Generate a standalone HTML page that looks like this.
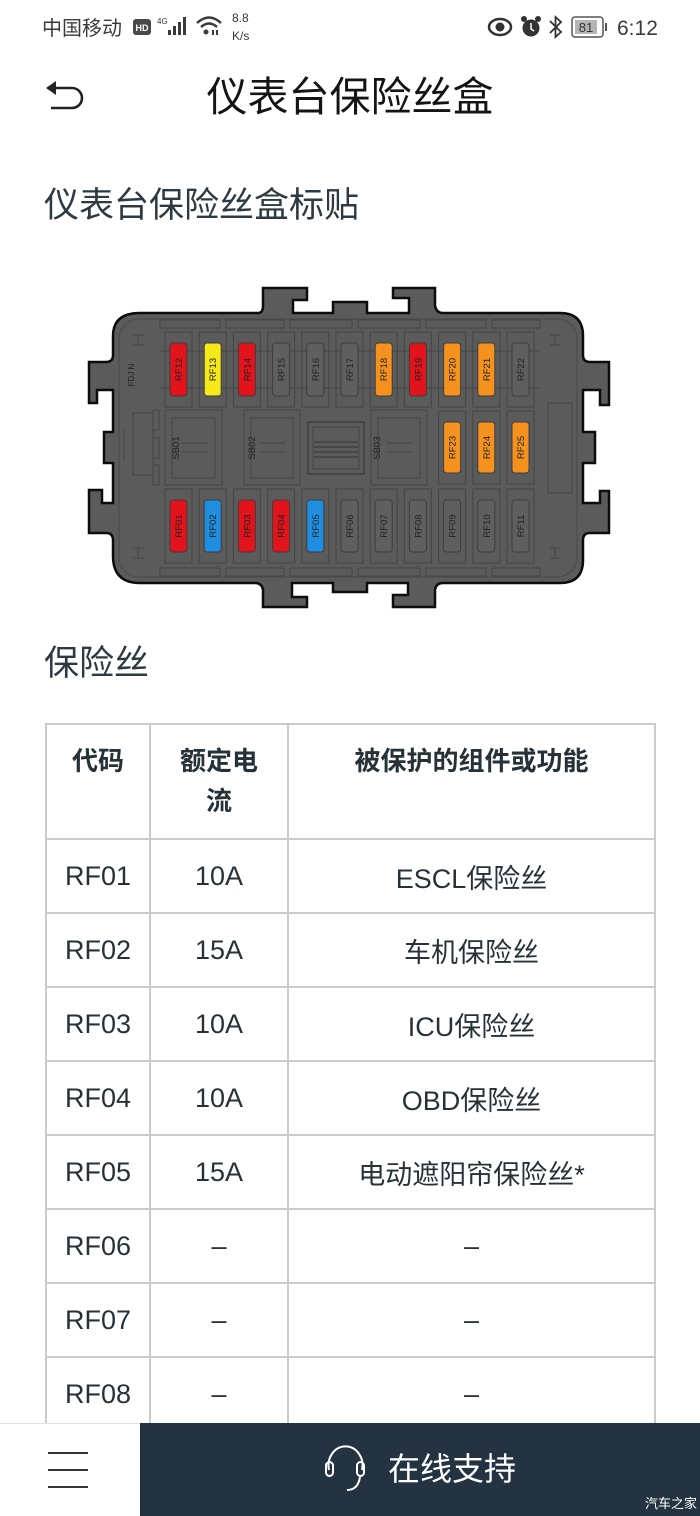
<!DOCTYPE html>
<html><head><meta charset="utf-8">
<style>
*{margin:0;padding:0;box-sizing:border-box}
html,body{width:700px;height:1516px;overflow:hidden;background:#fff}
body{position:relative;font-family:"Liberation Sans","Noto Sans CJK SC",sans-serif;color:#263238}
.abs{position:absolute}
.title{left:0;width:700px;top:74px;text-align:center;font-size:41px;line-height:46px;color:#141414;font-family:"Liberation Sans","Noto Sans CJK SC",sans-serif}
.h2{left:44px;font-size:35px;line-height:40px;color:#2d3a42}
table{position:absolute;left:45px;top:723px;border-collapse:collapse;table-layout:fixed;width:609px}
td,th{border:2px solid #cbcbcb;text-align:center;font-size:27px;color:#263238;font-weight:normal}
th{font-weight:bold;vertical-align:top;padding-top:16px;line-height:40px;height:115px;font-size:26px;color:#263238}
td{height:74px;vertical-align:middle}
.bar{left:140px;top:1423px;width:560px;height:93px;background:#233341}
.left{left:0;top:1423px;width:140px;height:93px;background:#fff;border-top:1px solid #e2e2e2}
</style></head><body>

<!-- status bar -->
<svg class="abs" style="left:0;top:0" width="700" height="60" viewBox="0 0 700 60">
<text x="42" y="35" font-size="20" fill="#3a3a3a" font-family="Liberation Sans,Noto Sans CJK SC,sans-serif">中国移动</text>
<rect x="133" y="19" width="18" height="16" rx="3" fill="#4a4a4a"/>
<text x="142" y="31" font-size="9" font-weight="bold" fill="#fff" text-anchor="middle" font-family="Liberation Sans,sans-serif">HD</text>
<text x="157" y="24" font-size="8" fill="#3a3a3a" font-family="Liberation Sans,sans-serif">4G</text>
<rect x="168" y="30" width="3" height="5" fill="#3a3a3a"/>
<rect x="173" y="26" width="3" height="9" fill="#3a3a3a"/>
<rect x="178" y="22" width="3" height="13" fill="#3a3a3a"/>
<rect x="183" y="17" width="3" height="18" fill="#3a3a3a"/>
<path d="M197 23 Q209 12 221 23" stroke="#3a3a3a" stroke-width="2.5" fill="none"/>
<path d="M201 27 Q209 20 217 27" stroke="#3a3a3a" stroke-width="2.5" fill="none"/>
<circle cx="206" cy="32" r="2.5" fill="#3a3a3a"/>
<rect x="212" y="30" width="2" height="5" fill="#3a3a3a"/><rect x="216" y="30" width="2" height="5" fill="#3a3a3a"/>
<text x="232" y="22" font-size="12" fill="#3a3a3a" font-family="Liberation Sans,sans-serif">8.8</text>
<text x="232" y="40" font-size="12" fill="#3a3a3a" font-family="Liberation Sans,sans-serif">K/s</text>
<ellipse cx="500" cy="27" rx="11" ry="8" fill="none" stroke="#333" stroke-width="2.5"/>
<circle cx="500" cy="27" r="4.5" fill="#333"/>
<circle cx="531" cy="28" r="8.5" fill="#333"/>
<circle cx="524" cy="19" r="3" fill="#333"/><circle cx="538" cy="19" r="3" fill="#333"/>
<path d="M531 23 L531 29 L534 31" stroke="#fff" stroke-width="1.5" fill="none"/>
<path d="M550 21 L561 32 L555.5 37 L555.5 17 L561 22 L550 33" stroke="#333" stroke-width="1.8" fill="none"/>
<rect x="572" y="17" width="31" height="20" rx="3" fill="none" stroke="#555" stroke-width="1.5"/>
<rect x="575" y="20" width="22" height="14" fill="#b5b5b5"/>
<text x="586" y="32" font-size="13" fill="#333" text-anchor="middle" font-family="Liberation Sans,sans-serif">81</text>
<rect x="605" y="23" width="2" height="8" fill="#555"/>
<text x="617" y="35" font-size="21" fill="#3a3a3a" font-family="Liberation Sans,sans-serif">6:12</text>
</svg>

<!-- header -->
<svg class="abs" style="left:40px;top:78px" width="50" height="40" viewBox="0 0 50 40">
<path d="M6 10 L16 3 L16 17 Z" fill="#222"/>
<path d="M14 10 L32 10 A10 10 0 0 1 32 30 L11 30" stroke="#222" stroke-width="2.6" fill="none"/>
</svg>
<div class="abs title">仪表台保险丝盒</div>

<div class="abs h2" style="top:186px">仪表台保险丝盒标贴</div>

<!-- fuse box -->
<svg class="abs" style="left:0;top:270px" width="700" height="350" viewBox="0 270 700 350" font-family="Liberation Sans,sans-serif">
<path d="M140 313 L258 313 Q263 313 263 306 L263 288 L307 288 L307 300 L293 300 L293 313 L333 313 L333 302 L367 302 L367 313 L409 313 L409 298 L393 298 L393 288 L435 288 L435 305 Q436 313 443 313 L560 313 Q583 313 583 336 L583 355 Q583 362 590 362 L609 362 L609 405 L600 405 L600 390 L583 390 L583 432 L595 432 L595 463 L583 463 L583 503 L600 503 L600 491 L609 491 L609 533 L590 533 Q583 533 583 540 L583 560 Q583 583 560 583 L443 583 Q436 583 435 590 L435 607 L393 607 L393 595 L408 595 L408 583 L367 583 L367 592 L333 592 L333 583 L292 583 L292 597 L307 597 L307 607 L263 607 L263 590 Q262 583 255 583 L140 583 Q113 583 113 556 L113 540 Q113 533 106 533 L89 533 L89 490 L102 490 L102 503 L113 503 L113 463 L104 463 L104 432 L113 432 L113 390 L97 390 L97 403 L89 403 L89 362 L106 362 Q113 362 113 355 L113 336 Q113 313 140 313 Z" fill="#5b5b5b" stroke="#0d0d0d" stroke-width="2.5"/>
<rect x="119" y="319" width="458" height="258" rx="20" fill="none" stroke="#4a4a4a" stroke-width="1"/>
<g fill="none" stroke="#454545" stroke-width="1">
<rect x="160" y="320" width="60" height="8"/><rect x="226" y="320" width="58" height="8"/><rect x="290" y="320" width="62" height="8"/><rect x="358" y="320" width="62" height="8"/><rect x="426" y="320" width="60" height="8"/><rect x="492" y="320" width="48" height="8"/>
<rect x="160" y="568" width="60" height="8"/><rect x="226" y="568" width="58" height="8"/><rect x="290" y="568" width="62" height="8"/><rect x="358" y="568" width="62" height="8"/><rect x="426" y="568" width="60" height="8"/><rect x="492" y="568" width="48" height="8"/>
<line x1="160" y1="351" x2="540" y2="351"/><line x1="160" y1="388" x2="540" y2="388"/>
<rect x="165" y="332" width="27" height="75"/><rect x="199.2" y="332" width="27" height="75"/><rect x="233.4" y="332" width="27" height="75"/><rect x="267.6" y="332" width="27" height="75"/><rect x="301.8" y="332" width="27" height="75"/><rect x="336" y="332" width="27" height="75"/><rect x="370.2" y="332" width="27" height="75"/><rect x="404.4" y="332" width="27" height="75"/><rect x="438.6" y="332" width="27" height="75"/><rect x="472.8" y="332" width="27" height="75"/><rect x="507" y="332" width="27" height="75"/>
<rect x="165" y="489" width="27" height="74"/><rect x="199.2" y="489" width="27" height="74"/><rect x="233.4" y="489" width="27" height="74"/><rect x="267.6" y="489" width="27" height="74"/><rect x="301.8" y="489" width="27" height="74"/><rect x="336" y="489" width="27" height="74"/><rect x="370.2" y="489" width="27" height="74"/><rect x="404.4" y="489" width="27" height="74"/><rect x="438.6" y="489" width="27" height="74"/><rect x="472.8" y="489" width="27" height="74"/><rect x="507" y="489" width="27" height="74"/>
<rect x="438.6" y="411" width="27" height="73"/><rect x="472.8" y="411" width="27" height="73"/><rect x="507" y="411" width="27" height="73"/>
<rect x="165" y="410" width="57" height="75"/><rect x="172" y="418" width="43" height="60"/>
<line x1="182" y1="443" x2="208" y2="443"/><line x1="182" y1="452" x2="208" y2="452"/>
<rect x="244" y="410" width="56" height="75"/><rect x="251" y="418" width="42" height="60"/>
<line x1="260" y1="443" x2="285" y2="443"/><line x1="260" y1="452" x2="285" y2="452"/>
<rect x="308" y="422" width="56" height="52" stroke="#333"/><rect x="313" y="427" width="46" height="42"/>
<line x1="314" y1="442" x2="358" y2="442" stroke="#333"/><line x1="314" y1="447" x2="358" y2="447" stroke="#333"/><line x1="314" y1="452" x2="358" y2="452" stroke="#333"/><line x1="314" y1="457" x2="358" y2="457" stroke="#333"/>
<rect x="371" y="410" width="56" height="75"/><rect x="378" y="418" width="42" height="60"/>
<line x1="387" y1="443" x2="412" y2="443"/><line x1="387" y1="452" x2="412" y2="452"/>
<rect x="133" y="413" width="20" height="62"/>
<rect x="153" y="410" width="6" height="20"/><rect x="153" y="438" width="6" height="20"/><rect x="153" y="465" width="6" height="20"/>
<line x1="124" y1="430" x2="124" y2="460"/>
<rect x="548" y="403" width="24" height="90"/>
<path d="M133 335 L145 335 M133 345 L145 345 M138 335 L138 345"/>
<path d="M560 335 L550 335 M560 345 L550 345 M555 335 L555 345"/>
<path d="M133 548 L145 548 M133 558 L145 558 M138 548 L138 558"/>
<path d="M560 548 L550 548 M560 558 L550 558 M555 548 L555 558"/>
</g>
<g stroke="#3e3e3e" stroke-width="1">
<rect x="170" y="343" width="17" height="53" rx="3" fill="#e3131b"/>
<rect x="204.2" y="343" width="17" height="53" rx="3" fill="#f7e81a"/>
<rect x="238.4" y="343" width="17" height="53" rx="3" fill="#e3131b"/>
<rect x="272.6" y="343" width="17" height="53" rx="3" fill="#5f5f5f"/>
<rect x="306.8" y="343" width="17" height="53" rx="3" fill="#5f5f5f"/>
<rect x="341" y="343" width="17" height="53" rx="3" fill="#5f5f5f"/>
<rect x="375.2" y="343" width="17" height="53" rx="3" fill="#f5921e"/>
<rect x="409.4" y="343" width="17" height="53" rx="3" fill="#e3131b"/>
<rect x="443.6" y="343" width="17" height="53" rx="3" fill="#f5921e"/>
<rect x="477.8" y="343" width="17" height="53" rx="3" fill="#f5921e"/>
<rect x="512" y="343" width="17" height="53" rx="3" fill="#5f5f5f"/>
<rect x="443.6" y="422" width="17" height="51" rx="3" fill="#f5921e"/>
<rect x="477.8" y="422" width="17" height="51" rx="3" fill="#f5921e"/>
<rect x="512" y="422" width="17" height="51" rx="3" fill="#f5921e"/>
<rect x="170" y="500" width="17" height="52" rx="3" fill="#e3131b"/>
<rect x="204.2" y="500" width="17" height="52" rx="3" fill="#1e8fe0"/>
<rect x="238.4" y="500" width="17" height="52" rx="3" fill="#e3131b"/>
<rect x="272.6" y="500" width="17" height="52" rx="3" fill="#e3131b"/>
<rect x="306.8" y="500" width="17" height="52" rx="3" fill="#1e8fe0"/>
<rect x="341" y="500" width="17" height="52" rx="3" fill="#5f5f5f"/>
<rect x="375.2" y="500" width="17" height="52" rx="3" fill="#5f5f5f"/>
<rect x="409.4" y="500" width="17" height="52" rx="3" fill="#5f5f5f"/>
<rect x="443.6" y="500" width="17" height="52" rx="3" fill="#5f5f5f"/>
<rect x="477.8" y="500" width="17" height="52" rx="3" fill="#5f5f5f"/>
<rect x="512" y="500" width="17" height="52" rx="3" fill="#5f5f5f"/>
</g>
<g font-size="9.5" fill="#222" text-anchor="middle">
<text transform="translate(182,369.5) rotate(-90)">RF12</text>
<text transform="translate(216.2,369.5) rotate(-90)">RF13</text>
<text transform="translate(250.4,369.5) rotate(-90)">RF14</text>
<text transform="translate(284.6,369.5) rotate(-90)">RF15</text>
<text transform="translate(318.8,369.5) rotate(-90)">RF16</text>
<text transform="translate(353,369.5) rotate(-90)">RF17</text>
<text transform="translate(387.2,369.5) rotate(-90)">RF18</text>
<text transform="translate(421.4,369.5) rotate(-90)">RF19</text>
<text transform="translate(455.6,369.5) rotate(-90)">RF20</text>
<text transform="translate(489.8,369.5) rotate(-90)">RF21</text>
<text transform="translate(524,369.5) rotate(-90)">RF22</text>
<text transform="translate(455.6,447.5) rotate(-90)">RF23</text>
<text transform="translate(489.8,447.5) rotate(-90)">RF24</text>
<text transform="translate(524,447.5) rotate(-90)">RF25</text>
<text transform="translate(182,526) rotate(-90)">RF01</text>
<text transform="translate(216.2,526) rotate(-90)">RF02</text>
<text transform="translate(250.4,526) rotate(-90)">RF03</text>
<text transform="translate(284.6,526) rotate(-90)">RF04</text>
<text transform="translate(318.8,526) rotate(-90)">RF05</text>
<text transform="translate(353,526) rotate(-90)">RF06</text>
<text transform="translate(387.2,526) rotate(-90)">RF07</text>
<text transform="translate(421.4,526) rotate(-90)">RF08</text>
<text transform="translate(455.6,526) rotate(-90)">RF09</text>
<text transform="translate(489.8,526) rotate(-90)">RF10</text>
<text transform="translate(524,526) rotate(-90)">RF11</text>
<text transform="translate(179,448) rotate(-90)">SB01</text>
<text transform="translate(255,448) rotate(-90)">SB02</text>
<text transform="translate(380,448) rotate(-90)">SB03</text>
<text transform="translate(134,375) rotate(-90)" font-size="8">FDJ N</text>
</g>
</svg>

<div class="abs h2" style="top:644px">保险丝</div>

<table>
<colgroup><col style="width:104px"><col style="width:138px"><col style="width:367px"></colgroup>
<tr><th>代码</th><th>额定电<br>流</th><th>被保护的组件或功能</th></tr>
<tr><td>RF01</td><td>10A</td><td>ESCL保险丝</td></tr>
<tr><td>RF02</td><td>15A</td><td>车机保险丝</td></tr>
<tr><td>RF03</td><td>10A</td><td>ICU保险丝</td></tr>
<tr><td>RF04</td><td>10A</td><td>OBD保险丝</td></tr>
<tr><td>RF05</td><td>15A</td><td>电动遮阳帘保险丝*</td></tr>
<tr><td>RF06</td><td>–</td><td>–</td></tr>
<tr><td>RF07</td><td>–</td><td>–</td></tr>
<tr><td>RF08</td><td>–</td><td>–</td></tr>
<tr><td>RF09</td><td>–</td><td>–</td></tr>
</table>

<!-- bottom bar -->
<div class="abs left"></div>
<div class="abs bar"></div>
<svg class="abs" style="left:0;top:1423px" width="700" height="93" viewBox="0 1423 700 93">
<line x1="48" y1="1453" x2="88" y2="1453" stroke="#333" stroke-width="2"/>
<line x1="48" y1="1470" x2="88" y2="1470" stroke="#333" stroke-width="2"/>
<line x1="48" y1="1487" x2="88" y2="1487" stroke="#333" stroke-width="2"/>
<path d="M329 1470 A17 19 0 1 1 362 1470" stroke="#fff" stroke-width="2" fill="none"/>
<rect x="326" y="1462" width="7" height="14" rx="3.5" stroke="#fff" stroke-width="2" fill="none"/>
<rect x="357" y="1462" width="7" height="14" rx="3.5" stroke="#fff" stroke-width="2" fill="none"/>
<path d="M360 1477 Q358 1490 347 1490" stroke="#fff" stroke-width="2" fill="none"/>
<text x="388" y="1480" font-size="32" fill="#fff" font-family="Liberation Sans,Noto Sans CJK SC,sans-serif">在线支持</text>
<text x="697" y="1508" font-size="13" fill="#fff" text-anchor="end" font-family="Liberation Sans,Noto Sans CJK SC,sans-serif">汽车之家</text>
</svg>
</body></html>
